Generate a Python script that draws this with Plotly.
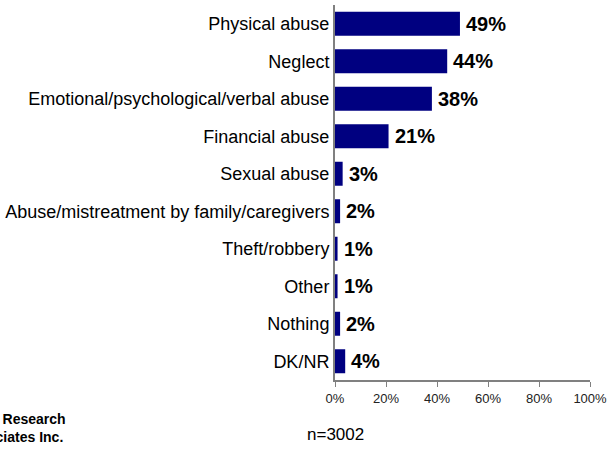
import plotly.graph_objects as go

# Survey responses: types of elder abuse mentioned (% of respondents)
categories = [
    "Physical abuse",
    "Neglect",
    "Emotional/psychological/verbal abuse",
    "Financial abuse",
    "Sexual abuse",
    "Abuse/mistreatment by family/caregivers",
    "Theft/robbery",
    "Other",
    "Nothing",
    "DK/NR",
]
percents = [49, 44, 38, 21, 3, 2, 1, 1, 2, 4]
tick_values = [0, 20, 40, 60, 80, 100]
tick_labels = ["0%", "20%", "40%", "60%", "80%", "100%"]
sample_note = "n=3002"
source_note = "EKOS Research<br>Associates Inc."

BAR_COLOR = "#000080"
AXIS_GREY = "#808080"
FONT = "Liberation Sans, Arial, sans-serif"

fig = go.Figure(
    go.Bar(
        x=percents,
        y=categories,
        orientation="h",
        marker=dict(color=BAR_COLOR, line=dict(width=0)),
        hoverinfo="skip",
    )
)

# Percentage labels just past the end of each bar
for cat, val in zip(categories, percents):
    fig.add_annotation(
        x=val, y=cat,
        xref="x", yref="y",
        text=f"{val}%",
        xanchor="left", yanchor="middle",
        xshift=4,
        showarrow=False,
        font=dict(family=FONT, size=20, color="#000000", weight="bold"),
    )

fig.update_layout(
    width=611,
    height=450,
    margin=dict(l=335, r=21, t=5, b=70),
    paper_bgcolor="white",
    plot_bgcolor="white",
    bargap=0.36,
    showlegend=False,
    font=dict(family=FONT, color="#000000"),
)

fig.update_xaxes(
    range=[0, 100],
    tickmode="array",
    tickvals=tick_values,
    ticktext=tick_labels,
    tickfont=dict(family=FONT, size=13, color="#222222"),
    ticks="outside",
    ticklen=5,
    tickwidth=1,
    tickcolor=AXIS_GREY,
    showline=True,
    linecolor=AXIS_GREY,
    linewidth=2,
    showgrid=False,
    zeroline=False,
    fixedrange=True,
)

fig.update_yaxes(
    categoryorder="array",
    categoryarray=categories,
    autorange="reversed",
    tickfont=dict(family=FONT, size=18, color="#000000"),
    ticks="",
    ticklabelstandoff=0,
    showline=True,
    linecolor=AXIS_GREY,
    linewidth=2,
    showgrid=False,
    zeroline=False,
    fixedrange=True,
)

# Sample size under the axis
fig.add_annotation(
    text=sample_note,
    xref="paper", yref="paper",
    x=0, y=-0.145,
    xanchor="center", yanchor="middle",
    showarrow=False,
    font=dict(family=FONT, size=17, color="#000000"),
)

# Research firm credit in the lower-left corner
fig.add_annotation(
    text=source_note,
    xref="paper", yref="paper",
    x=-335 / 255 + 68 / 255, y=-0.127,
    xanchor="right", yanchor="middle",
    align="center",
    showarrow=False,
    font=dict(family=FONT, size=14, color="#000000", weight="bold"),
)

fig.write_html("out.html")
